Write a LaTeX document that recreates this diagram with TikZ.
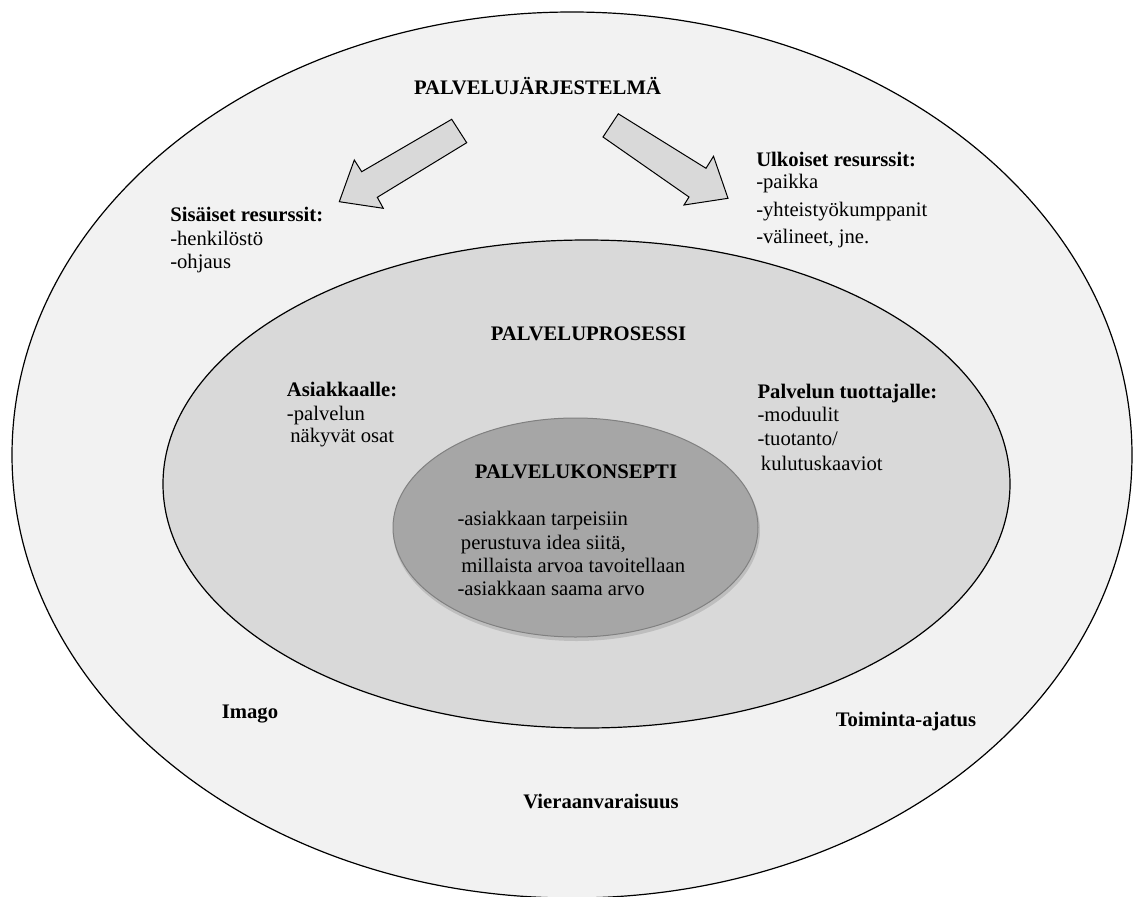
\documentclass[tikz,border=0pt]{standalone}
\usepackage{fontspec}
\setmainfont{Liberation Serif}
\definecolor{outerfill}{HTML}{F2F2F2}
\definecolor{midfill}{HTML}{D9D9D9}
\definecolor{corefill}{HTML}{A6A6A6}
\begin{document}
\begin{tikzpicture}[x=0.75pt,y=-0.75pt]

    \tikzset{
      txt/.style={
        inner sep=0pt,
        anchor=base west,
        font=\fontsize{15.5}{18}\selectfont,
      },
      head/.style={
        txt,
        font=\fontsize{15.5}{18}\selectfont\bfseries,
      },
      title/.style={
        head,
        anchor=base,
      },
      bigarrow/.style={
        draw=black,
        fill=midfill,
        line width=0.75pt,
        line join=miter,
      },
      ring/.style={
        draw=black,
        line width=0.9pt,
      },
    }
    \clip (0,0) rectangle (1133,897);

	% the three layers
	\draw[ring, fill=outerfill] (572,455) ellipse [x radius=560, y radius=443];
	\draw[ring, fill=midfill] (586.5,484) ellipse [x radius=423.5, y radius=244];
	\fill[black, opacity=0.12] (576.5,530.5) ellipse [x radius=183.5, y radius=110.5];
	\draw[draw=gray, line width=0.75pt, fill=corefill] (575.5,527.5) ellipse [x radius=182.5, y radius=109.5];

	% arrows from the top title
	\draw[bigarrow] (451.7,119.3)--(466.7,142.7)--(377.3,197.3)--(383.3,208.3)--(339.3,201.7)--(354.3,160)--(361.7,171.7)--cycle;
	\draw[bigarrow] (618.3,113.8)--(603,137)--(689,197)--(684,205)--(728,198.3)--(713.5,156.3)--(706,168.3)--cycle;

	\node[title] (jarj) at (537.5,94.3) {PALVELUJÄRJESTELMÄ};

	\node[head] (sis0) at (170,221.7) {Sisäiset resurssit:};
	\node[txt] (sis1) at (170,245) {-henkilöstö};
	\node[txt] (sis2) at (170,268) {-ohjaus};

	\node[head] (ulk0) at (756,166) {Ulkoiset resurssit:};
	\node[txt] (ulk1) at (756,188) {-paikka};
	\node[txt] (ulk2) at (756,216.7) {-yhteistyökumppanit};
	\node[txt] (ulk3) at (756,243) {-välineet, jne.};

	\node[title] (pros) at (588.5,340) {PALVELUPROSESSI};

	\node[head] (asi0) at (286.7,396.7) {Asiakkaalle:};
	\node[txt] (asi1) at (286.7,420) {-palvelun};
	\node[txt] (asi2) at (290,442.7) {näkyvät osat};

	\node[head] (tuo0) at (757.3,398.3) {Palvelun tuottajalle:};
	\node[txt] (tuo1) at (757.3,421.7) {-moduulit};
	\node[txt] (tuo2) at (757.3,445.7) {-tuotanto/};
	\node[txt] (tuo3) at (760.7,470) {kulutuskaaviot};

	\node[title] (kons) at (576,478.3) {PALVELUKONSEPTI};
	\node[txt] (kon0) at (457.3,525) {-asiakkaan tarpeisiin};
	\node[txt] (kon1) at (460.7,549) {perustuva idea siitä,};
	\node[txt] (kon2) at (461,572) {millaista arvoa tavoitellaan};
	\node[txt] (kon3) at (457.3,595) {-asiakkaan saama arvo};

	\node[title] (imago) at (250,718) {Imago};
	\node[title] (toim) at (906,726) {Toiminta-ajatus};
	\node[title] (vier) at (601,808) {Vieraanvaraisuus};

\end{tikzpicture}
\end{document}
